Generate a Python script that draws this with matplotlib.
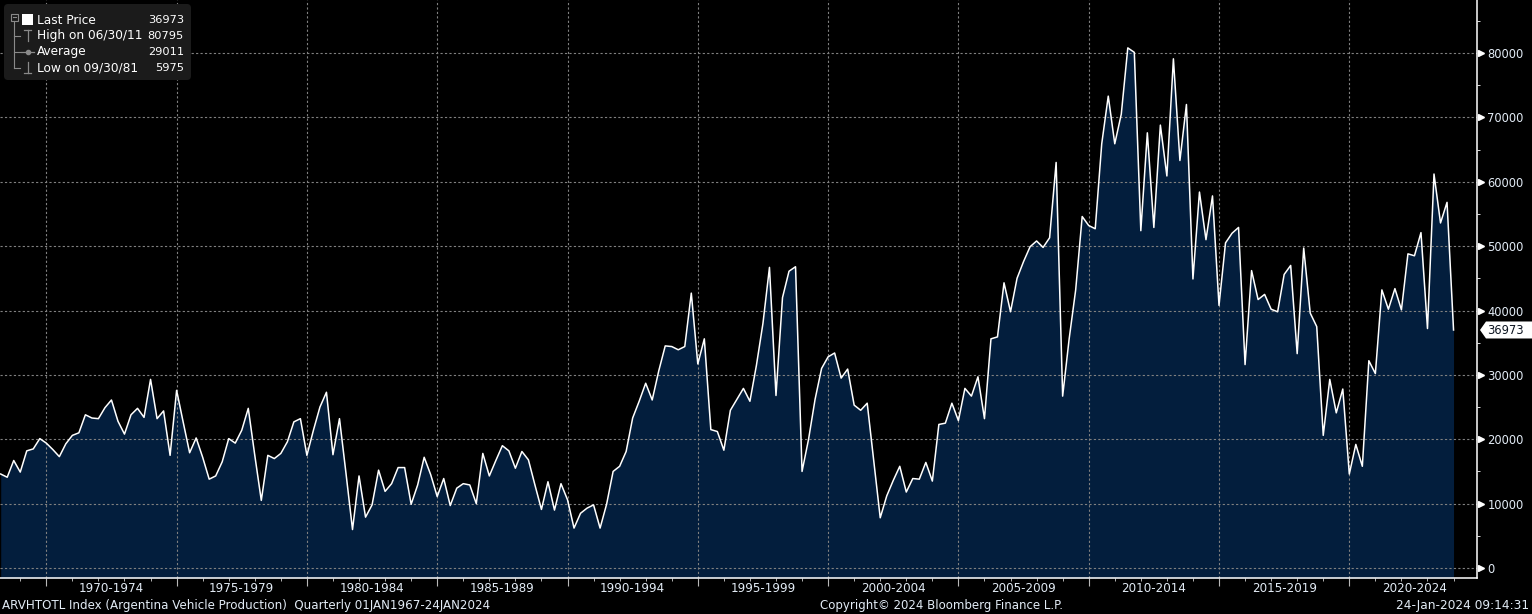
import numpy as np
import matplotlib.pyplot as plt
from matplotlib.transforms import blended_transform_factory
from matplotlib.patches import FancyBboxPatch, Polygon, Rectangle

# Argentina vehicle production, quarterly (1968Q1 .. 2023Q4)
first_year = 1968
production = [
    14600, 14100, 16700, 14900,   # 1968
    18200, 18500, 20100, 19400,   # 1969
    18400, 17300, 19300, 20600,   # 1970
    21000, 23800, 23300, 23200,   # 1971
    24900, 26100, 22800, 20800,   # 1972
    23800, 24800, 23400, 29300,   # 1973
    23200, 24400, 17500, 27600,   # 1974
    22700, 17900, 20200, 17200,   # 1975
    13800, 14300, 16500, 20100,   # 1976
    19400, 21400, 24800, 17500,   # 1977
    10500, 17500, 17000, 17800,   # 1978
    19600, 22700, 23200, 17500,   # 1979
    21400, 25000, 27300, 17600,   # 1980
    23200, 14700, 5975, 14300,    # 1981
    7900, 9800, 15200, 11900,     # 1982
    13100, 15600, 15600, 9900,    # 1983
    12900, 17200, 14500, 11100,   # 1984
    13900, 9700, 12400, 13100,    # 1985
    12900, 10000, 17800, 14300,   # 1986
    16700, 19000, 18200, 15500,   # 1987
    18100, 16800, 12900, 9100,    # 1988
    13400, 9000, 13100, 10600,    # 1989
    6200, 8500, 9300, 9800,       # 1990
    6200, 9900, 15000, 15800,     # 1991
    18100, 23300, 25900, 28700,   # 1992
    26100, 30600, 34500, 34400,   # 1993
    33900, 34400, 42700, 31700,   # 1994
    35600, 21500, 21200, 18300,   # 1995
    24500, 26200, 27900, 25900,   # 1996
    31500, 38000, 46700, 26800,   # 1997
    42000, 46100, 46800, 15000,   # 1998
    20000, 26200, 31000, 32800,   # 1999
    33400, 29500, 30900, 25300,   # 2000
    24500, 25600, 16700, 7800,    # 2001
    11200, 13600, 15800, 11800,   # 2002
    13900, 13800, 16400, 13500,   # 2003
    22300, 22500, 25600, 22900,   # 2004
    27900, 26700, 29700, 23200,   # 2005
    35600, 35900, 44300, 39800,   # 2006
    45000, 47600, 49900, 50800,   # 2007
    49800, 51300, 63000, 26700,   # 2008
    35600, 43200, 54600, 53200,   # 2009
    52700, 65900, 73300, 65900,   # 2010
    70500, 80795, 80100, 52400,   # 2011
    67600, 52900, 68800, 60900,   # 2012
    79100, 63300, 72000, 44900,   # 2013
    58400, 51000, 57800, 40800,   # 2014
    50500, 52000, 52900, 31600,   # 2015
    46200, 41700, 42500, 40200,   # 2016
    39800, 45600, 47000, 33300,   # 2017
    49700, 39600, 37500, 20600,   # 2018
    29300, 24100, 27800, 14600,   # 2019
    19200, 15800, 32200, 30200,   # 2020
    43200, 40200, 43400, 40100,   # 2021
    48800, 48500, 52100, 37200,   # 2022
    61200, 53600, 56800, 36973,   # 2023
]

period_starts = list(range(1970, 2021, 5))
period_labels = [f"{y}-{y + 4}" for y in period_starts]
y_ticks = list(range(0, 80001, 10000))

legend_names = ["Last Price", "High on 06/30/11", "Average", "Low on 09/30/81"]
legend_values = ["36973", "80795", "29011", "5975"]
last_price = 36973

footer_left = "ARVHTOTL Index (Argentina Vehicle Production)  Quarterly 01JAN1967-24JAN2024"
footer_mid = "Copyright\u00a9 2024 Bloomberg Finance L.P."
footer_right = "24-Jan-2024 09:14:31"

# quarter end dates as decimal years
quarter_end = first_year + 0.25 * np.arange(1, len(production) + 1)

W, H = 1532, 614
txt = '#e2ebf5'
fill = '#031e3d'

plt.rcParams['font.family'] = ['DejaVu Sans']
fig = plt.figure(figsize=(W / 100, H / 100), dpi=100, facecolor='black')
ax = fig.add_axes([0, 36 / H, 1477 / W, 578 / H])
ax.set_facecolor('black')

ymin, ymax = -1553, 88233
ax.fill_between(quarter_end, production, ymin, color=fill, lw=0, zorder=1)
ax.plot(quarter_end, production, color='white', lw=1.1, zorder=3)
ax.set_xlim(1968.223, 2024.90)
ax.set_ylim(ymin, ymax)

# grid
ax.set_xticks(period_starts)
ax.set_xticks(range(1969, 2025), minor=True)
ax.set_yticks(y_ticks)
ax.set_yticks(range(5000, 88000, 10000), minor=True)
ax.set_axisbelow('line')
ax.grid(True, which='major', color='#808080', ls=(0, (2, 2)), lw=0.8)

for s in ['left', 'top']:
    ax.spines[s].set_visible(False)
ax.spines['right'].set_color('white')
ax.spines['bottom'].set_color('white')
ax.spines['right'].set_linewidth(1.1)
ax.spines['bottom'].set_linewidth(1.1)

ax.tick_params(axis='x', which='major', length=6, color='#b8b8b8', labelbottom=False)
ax.tick_params(axis='x', which='minor', length=2.2, color='#d0d0d0')
ax.yaxis.tick_right()
ax.tick_params(axis='y', which='major', length=0, pad=7.5, labelcolor=txt, labelsize=8.3)
ax.tick_params(axis='y', which='minor', length=2.5, color='white')
ax.set_yticklabels([str(v) for v in y_ticks])

# triangle tick marks on the right axis
ry = blended_transform_factory(ax.transAxes, ax.transData)
ax.plot(np.full(len(y_ticks), 1 + 4 / 1477), y_ticks, ls='none', marker='>',
        ms=5, color='white', mec='white', transform=ry, clip_on=False)

# period labels under the axis
bx = blended_transform_factory(ax.transData, ax.transAxes)
for start, lab in zip(period_starts, period_labels):
    ax.text(start + 2.5, -10 / 578, lab, transform=bx, ha='center', va='center',
            color=txt, fontsize=8.6, clip_on=False)

# overlay in pixel coordinates for the chrome
ov = fig.add_axes([0, 0, 1, 1])
ov.set_xlim(0, W)
ov.set_ylim(H, 0)
ov.axis('off')
ov.patch.set_alpha(0)

ov.add_patch(FancyBboxPatch((4, 4), 187, 76, boxstyle='round,pad=0,rounding_size=4',
                            fc='#1b1b1b', ec='none'))
rows = [20, 36, 52, 68]
g = '#8a8a8a'
ov.add_patch(Rectangle((11, 14), 6.5, 6.5, fc='none', ec=g, lw=0.8))
ov.plot([12.5, 16], [17.25, 17.25], color=g, lw=0.8)
ov.plot([14.2, 14.2], [21, rows[3]], color=g, lw=0.8)
for r in rows[1:]:
    ov.plot([14.2, 19.5], [r, r], color=g, lw=0.8)
ov.add_patch(Rectangle((21.5, 13.5), 11, 11.5, fc='white', ec='none'))
ov.plot([27.5, 27.5], [30, 41], color=g, lw=0.9)
ov.plot([24, 31], [30, 30], color=g, lw=0.9)
ov.plot([21, 34], [rows[2], rows[2]], color=g, lw=0.9)
ov.plot([27.5], [rows[2]], 'o', ms=3, color=g)
ov.plot([27.5, 27.5], [62, 73], color=g, lw=0.9)
ov.plot([24, 31], [73, 73], color=g, lw=0.9)
for r, name, val in zip(rows, legend_names, legend_values):
    ov.text(37, r, name, color='white', fontsize=8.7, va='center', ha='left')
    ov.text(184, r, val, color='white', fontsize=8.2, va='center', ha='right')

# last price tag
fig.canvas.draw()
yc = H - ax.transData.transform((2000, last_price))[1]
ov.add_patch(Polygon([(1480, yc), (1486, yc - 8.5), (1532, yc - 8.5),
                      (1532, yc + 8.5), (1486, yc + 8.5)], closed=True,
                     fc='white', ec='none'))
ov.text(1487, yc + 0.5, str(last_price), color='#0c1420', fontsize=8.3, va='center', ha='left')

# footer
ov.text(2, 605.5, footer_left, color=txt, fontsize=8.55, va='center', ha='left')
ov.text(942, 605.5, footer_mid, color=txt, fontsize=8.45, va='center', ha='center')
ov.text(1529, 605.5, footer_right, color=txt, fontsize=8.7, va='center', ha='right')

fig.savefig('out.png', dpi=100, facecolor='black')
